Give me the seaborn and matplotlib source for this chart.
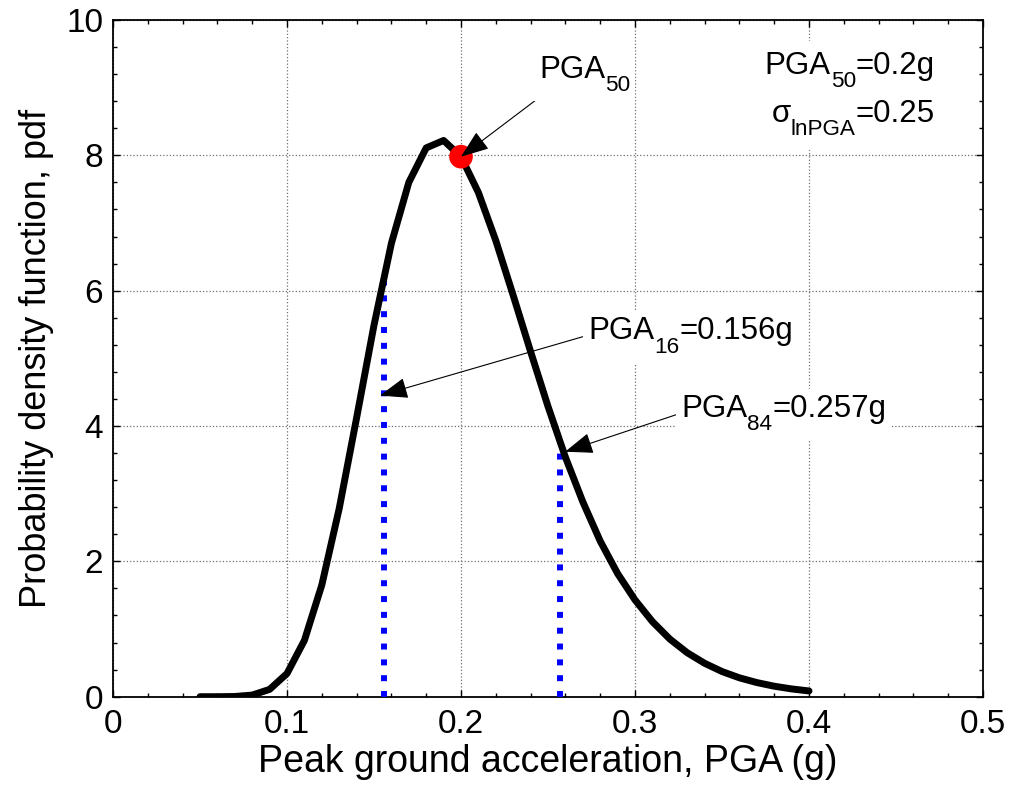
import matplotlib
matplotlib.use("Agg")
import matplotlib.pyplot as plt
import matplotlib.transforms as mtransforms
from matplotlib.patches import Rectangle
import seaborn as sns
import pandas as pd

# ---- data ----
pga = [0.05, 0.06, 0.07, 0.08, 0.09, 0.10, 0.11, 0.12, 0.13, 0.14, 0.15, 0.16,
       0.17, 0.18, 0.19, 0.20, 0.21, 0.22, 0.23, 0.24, 0.25, 0.26, 0.27, 0.28,
       0.29, 0.30, 0.31, 0.32, 0.33, 0.34, 0.35, 0.36, 0.37, 0.38, 0.39, 0.40]
pdf = [0.0, 0.0, 0.003, 0.024, 0.108, 0.342, 0.832, 1.65, 2.78, 4.12, 5.49, 6.70,
       7.60, 8.11, 8.22, 7.98, 7.45, 6.74, 5.93, 5.10, 4.29, 3.54, 2.88, 2.30,
       1.82, 1.43, 1.11, 0.852, 0.650, 0.494, 0.372, 0.279, 0.209, 0.155, 0.115, 0.085]

pga50, pdf50 = 0.2, 7.98
pga16, pdf16 = 0.156, 6.24
pga84, pdf84 = 0.257, 3.75

x_ticks = [0, 0.1, 0.2, 0.3, 0.4, 0.5]
x_tick_labels = ["0", "0.1", "0.2", "0.3", "0.4", "0.5"]
y_ticks = [0, 2, 4, 6, 8, 10]
y_tick_labels = ["0", "2", "4", "6", "8", "10"]

sns.set_theme(style="white")
plt.rcParams["font.family"] = ["Liberation Sans", "DejaVu Sans"]
plt.rcParams["text.color"] = "black"
plt.rcParams["axes.labelcolor"] = "black"
plt.rcParams["xtick.color"] = "black"
plt.rcParams["ytick.color"] = "black"

TICK_FS = 24
XLABEL_FS = 27
YLABEL_FS = 26
ANN_FS = 22.5

fig = plt.figure(figsize=(10.14, 7.94), dpi=100)
ax = fig.add_axes([113 / 1014, 97.3 / 794, 870 / 1014, 676.7 / 794])

df = pd.DataFrame({"pga": pga, "pdf": pdf})
sns.lineplot(data=df, x="pga", y="pdf", ax=ax, color="black", linewidth=5,
             zorder=4, sort=False, estimator=None)

for xv, yv in [(pga16, pdf16), (pga84, pdf84)]:
    sns.lineplot(x=[xv, xv], y=[0, yv], ax=ax, color="#0000ff",
                 linewidth=4.3, linestyle=":", zorder=3, estimator=None,
                 sort=False)
sns.scatterplot(x=[pga50], y=[pdf50], ax=ax, color="red", s=290,
                edgecolor="none", zorder=5)

ax.set_xlim(0, 0.5)
ax.set_ylim(0, 10)
ax.set_xticks(x_ticks)
ax.set_xticklabels(x_tick_labels)
ax.set_yticks(y_ticks)
ax.set_yticklabels(y_tick_labels)
ax.set_xticks([i * 0.02 for i in range(26)], minor=True)
ax.set_yticks([i * 0.4 for i in range(26)], minor=True)
ax.tick_params(which="both", direction="in", top=True, right=True,
               bottom=True, left=True, color="black", width=1.0)
ax.tick_params(which="major", length=5, labelsize=TICK_FS, labelcolor="black")
ax.tick_params(which="minor", length=3)
ax.tick_params(axis="x", which="major", pad=9)
ax.tick_params(axis="y", which="major", pad=7)

ax.grid(True, which="major", color="#707070", linestyle=":", linewidth=0.9)
ax.set_axisbelow(True)
for s in ax.spines.values():
    s.set_color("black")
    s.set_linewidth(1.3)

ax.set_xlabel("Peak ground acceleration, PGA (g)", fontsize=XLABEL_FS,
              labelpad=3, color="black")
ax.set_ylabel("Probability density function, pdf", fontsize=YLABEL_FS,
              labelpad=9, color="black")

fig.canvas.draw()
renderer = fig.canvas.get_renderer()
ident = mtransforms.IdentityTransform()


def sub_text(x, y, parts, fs=ANN_FS, ha="left", pad=5):
    """Write text made of normal and subscript parts, MATLAB style."""
    px, py = ax.transData.transform((x, y))
    arts = []
    cx = px
    for txt, is_sub in parts:
        size = fs * 0.72 if is_sub else fs
        dy = -fs * 100 / 72 * 0.42 if is_sub else 0
        t = fig.text(cx, py + dy, txt, fontsize=size, ha="left",
                     va="baseline", transform=ident, zorder=8, color="black")
        ext = t.get_window_extent(renderer)
        cx = ext.x1
        arts.append(t)
    width = cx - px
    if ha == "right":
        for t in arts:
            t.set_x(t.get_position()[0] - width)
    exts = [t.get_window_extent(renderer) for t in arts]
    x0 = min(e.x0 for e in exts) - pad
    x1 = max(e.x1 for e in exts) + pad
    y0 = min(e.y0 for e in exts) - pad
    y1 = max(e.y1 for e in exts) + pad
    rect = Rectangle((x0, y0), x1 - x0, y1 - y0, transform=ident,
                     facecolor="white", edgecolor="none", zorder=3.5)
    fig.patches.append(rect)
    return arts


arrowprops = dict(arrowstyle="-|>,head_length=0.8,head_width=0.3",
                  color="black", lw=0.8, mutation_scale=22, shrinkA=0,
                  shrinkB=0)

# PGA50 label and arrow
sub_text(0.2448, 9.15, [("PGA", False), ("50", True)])
ax.annotate("", xy=(pga50, pdf50), xytext=(0.2437, 8.83),
            arrowprops=arrowprops, zorder=7)

# PGA16
sub_text(0.273, 5.28, [("PGA", False), ("16", True), ("=0.156g", False)])
ax.annotate("", xy=(0.1534, 4.45), xytext=(0.270, 5.32),
            arrowprops=arrowprops, zorder=7)

# PGA84
sub_text(0.3264, 4.14, [("PGA", False), ("84", True), ("=0.257g", False)])
ax.annotate("", xy=(0.2598, 3.62), xytext=(0.324, 4.17),
            arrowprops=arrowprops, zorder=7)

# parameters
sub_text(0.4724, 9.20, [("PGA", False), ("50", True), ("=0.2g", False)],
         ha="right", pad=10)
sub_text(0.4724, 8.50, [("σ", False), ("lnPGA", True), ("=0.25", False)],
         ha="right", pad=10)

fig.savefig("out.png", dpi=100, facecolor="white")
